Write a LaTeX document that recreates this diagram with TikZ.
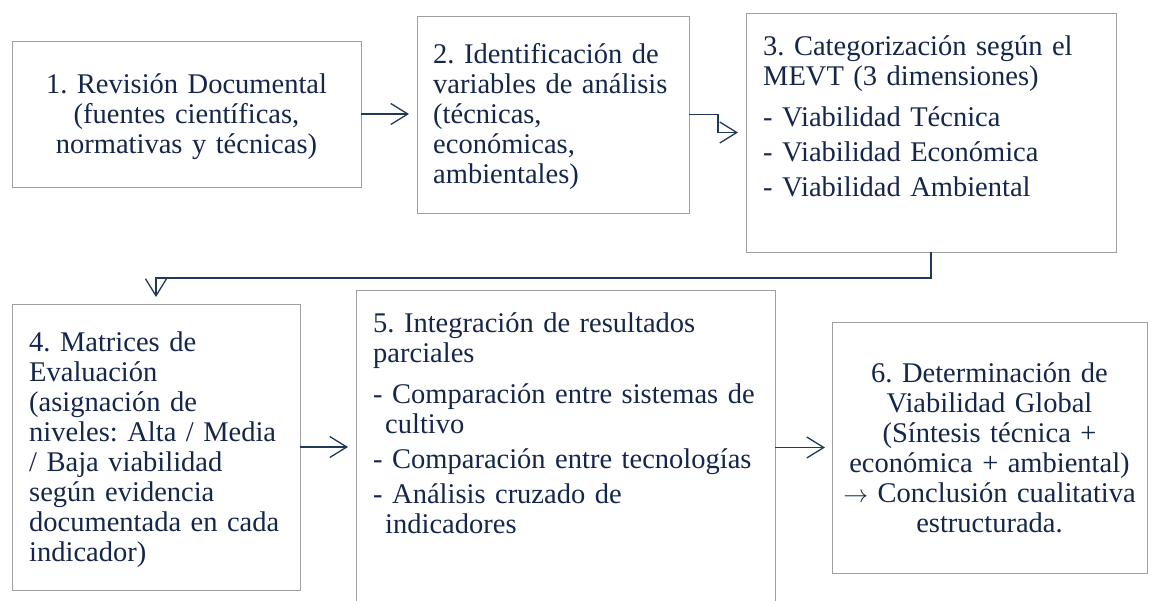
\documentclass[tikz,border=0pt]{standalone}
\usepackage{fontspec}
\setmainfont{Liberation Serif}
\usetikzlibrary{arrows.meta}
\definecolor{txt}{HTML}{14264A}
\definecolor{edgec}{HTML}{A0A0A0}
\definecolor{linkc}{HTML}{22385A}
\frenchspacing
\begin{document}
\begin{tikzpicture}[x=1pt,y=-1pt,
  box/.style={draw=edgec, line width=1pt, inner sep=0pt, outer sep=0pt, anchor=north west},
  txtnode/.style={inner sep=0pt, text=txt, font=\fontsize{28.5}{30}\selectfont},
  link/.style={draw=linkc, line width=1.3pt, -{Straight Barb[length=17pt,width=21pt]}}]
\useasboundingbox (0,0) rectangle (1151,600);
% boxes
\node[box, minimum width=349pt, minimum height=146pt] (b1) at (12,41) {};
\node[box, minimum width=272pt, minimum height=197pt] (b2) at (417,16) {};
\node[box, minimum width=370pt, minimum height=239pt] (b3) at (746,13) {};
\node[box, minimum width=288pt, minimum height=286pt] (b4) at (12,304) {};
\node[box, minimum width=419pt, minimum height=320pt] (b5) at (356,290) {};
\node[box, minimum width=315pt, minimum height=251pt] (b6) at (832,322) {};
% texts
\node[txtnode, text width=349pt, align=center, anchor=base] (t1) at (186.5,93)
  {1. Revisión Documental\\(fuentes científicas,\\normativas y técnicas)};
\node[txtnode, text width=260pt, align=left, anchor=base west] (t2) at (433,63)
  {2. Identificación de\\variables de análisis\\(técnicas,\\económicas,\\ambientales)};
\node[txtnode, text width=350pt, align=left, anchor=base west] (t3) at (763,55)
  {3. Categorización según el\\MEVT (3 dimensiones)\\[11pt]- Viabilidad Técnica\\[5pt]- Viabilidad Económica\\[5pt]- Viabilidad Ambiental};
\node[txtnode, text width=275pt, align=left, anchor=base west] (t4) at (29,351)
  {4. Matrices de\\Evaluación\\(asignación de\\niveles: Alta / Media\\/ Baja viabilidad\\según evidencia\\documentada en cada\\indicador)};
\node[txtnode, text width=400pt, align=left, anchor=base west] (t5) at (373,332)
  {5. Integración de resultados\\parciales\\[11pt]- Comparación entre sistemas de\\\hspace*{12pt}cultivo\\[5pt]- Comparación entre tecnologías\\[5pt]- Análisis cruzado de\\\hspace*{12pt}indicadores};
\node[txtnode, text width=315pt, align=center, anchor=base] (t6) at (989.5,382)
  {6. Determinación de\\Viabilidad Global\\(Síntesis técnica +\\económica + ambiental)\\$\rightarrow$ Conclusión cualitativa\\estructurada.};
% connectors
\draw[link, shorten >=8pt] (b1.east) -- (b1.east -| b2.west);
\draw[link, shorten >=8pt] (b2.east) -- ++(29,0) |- (b3.west);
\draw[link, shorten >=7pt] (b3.south) -- ++(0,26) -| (b4.north);
\draw[link, shorten >=8pt] (b4.east) -- (b4.east -| b5.west);
\draw[link, shorten >=7pt] (b6.west -| b5.east) -- (b6.west);
\end{tikzpicture}
\end{document}
